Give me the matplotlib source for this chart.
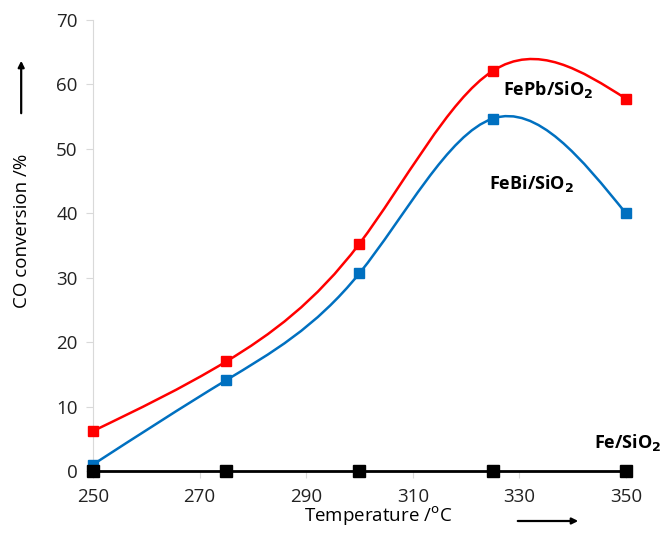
import numpy as np
import matplotlib
matplotlib.use('Agg')
import matplotlib.pyplot as plt
from matplotlib.path import Path
from matplotlib.patches import PathPatch, FancyArrowPatch

temps = [250, 275, 300, 325, 350]
fepb = [6.2, 17.0, 35.3, 62.1, 57.8]
febi = [1.0, 14.1, 30.7, 54.7, 40.0]
fe = [0.0, 0.0, 0.0, 0.0, 0.0]
xticks = [250, 270, 290, 310, 330, 350]
yticks = [0, 10, 20, 30, 40, 50, 60, 70]

plt.rcParams['font.family'] = ['Open Sans', 'DejaVu Sans']


def smooth_path(xs, ys):
    # natural cubic spline through the points, drawn as bezier segments
    x = np.asarray(xs, float)
    y = np.asarray(ys, float)
    n = len(x)
    h = np.diff(x)
    A = np.zeros((n, n))
    r = np.zeros(n)
    A[0, 0] = A[-1, -1] = 1
    for i in range(1, n - 1):
        A[i, i - 1] = h[i - 1]
        A[i, i] = 2 * (h[i - 1] + h[i])
        A[i, i + 1] = h[i]
        r[i] = 6 * ((y[i + 1] - y[i]) / h[i] - (y[i] - y[i - 1]) / h[i - 1])
    M = np.linalg.solve(A, r)
    m = np.zeros(n)
    for i in range(n - 1):
        m[i] = (y[i + 1] - y[i]) / h[i] - h[i] * (2 * M[i] + M[i + 1]) / 6
    m[-1] = (y[-1] - y[-2]) / h[-1] + h[-1] * (2 * M[-1] + M[-2]) / 6
    verts = [(x[0], y[0])]
    codes = [Path.MOVETO]
    for i in range(n - 1):
        verts += [(x[i] + h[i] / 3, y[i] + m[i] * h[i] / 3),
                  (x[i + 1] - h[i] / 3, y[i + 1] - m[i + 1] * h[i] / 3),
                  (x[i + 1], y[i + 1])]
        codes += [Path.CURVE4] * 3
    return Path(verts, codes)


fig = plt.figure(figsize=(6.62, 5.42), dpi=100)
ax = fig.add_axes([0.1405, 0.131, 0.805, 0.832])

for vals, col in [(fepb, '#ff0000'), (febi, '#0070c0')]:
    ax.add_patch(PathPatch(smooth_path(temps, vals), fill=False, edgecolor=col, lw=1.8, zorder=2))
    ax.plot(temps, vals, 's', color=col, ms=7, zorder=3, clip_on=False)

ax.plot(temps, fe, 's-', color='black', lw=2, ms=8, zorder=4, clip_on=False)

ax.set_xlim(250, 350)
ax.set_ylim(0, 70)
ax.set_xticks(xticks)
ax.set_yticks(yticks)
ax.tick_params(labelsize=13.5, colors='#d9d9d9', labelcolor='#222222', length=5)
ax.tick_params(axis='x', pad=7)
ax.tick_params(axis='y', pad=6)
for s in ['top', 'right']:
    ax.spines[s].set_visible(False)
ax.spines['left'].set_color('#d9d9d9')
ax.spines['bottom'].set_color('#d9d9d9')

fig.text(0.033, 1 - 231 / 542, 'CO conversion /%', rotation=90, ha='center', va='center', fontsize=13.5)
fig.text(378 / 662, 1 - 516 / 542, 'Temperature /$^{\\rm o}$C', ha='center', va='center', fontsize=13.5)
fig.patches.append(FancyArrowPatch(
    (0.032, 1 - 116 / 542), (0.032, 1 - 58 / 542), transform=fig.transFigure,
    arrowstyle='-|>', mutation_scale=9, lw=1.6, color='black'))
fig.patches.append(FancyArrowPatch(
    (515 / 662, 1 - 521 / 542), (581 / 662, 1 - 521 / 542), transform=fig.transFigure,
    arrowstyle='-|>', mutation_scale=9, lw=1.6, color='black'))

ax.text(326.9, 59.2, 'FePb/SiO$_\\mathbf{2}$', fontsize=13, fontweight='bold', va='center')
ax.text(324.3, 44.7, 'FeBi/SiO$_\\mathbf{2}$', fontsize=13, fontweight='bold', va='center')
ax.text(344.0, 4.5, 'Fe/SiO$_\\mathbf{2}$', fontsize=13, fontweight='bold', va='center')

fig.savefig('out.png', dpi=100)
